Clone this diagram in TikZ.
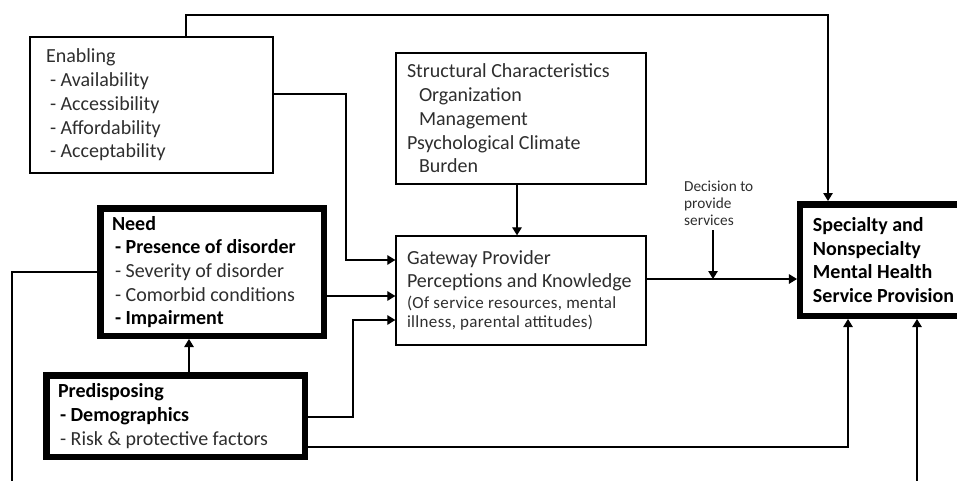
\documentclass[tikz,border=0pt]{standalone}
\usepackage{fontspec}
\setmainfont{Carlito}
\usetikzlibrary{arrows.meta, positioning}

\begin{document}
\begin{tikzpicture}[x=1pt, y=-1pt,
        every node/.style={text=black!82},
        box/.style={draw, line width=1.3pt, align=flush left, inner ysep=0pt,
            font=\fontsize{20}{23.7}\selectfont},
        bigbox/.style={box, line width=6.5pt, inner xsep=11.75pt, text=black},
        link/.style={line width=1.2pt},
        arr/.style={link, -{Triangle[length=8pt,width=9.5pt]}},
        small/.style={font=\fontsize{15.3}{17}\selectfont, align=flush left, inner sep=0pt}]
        \useasboundingbox (0,0) rectangle (957,480);
        \node [box, inner xsep=16pt, text width=211pt, minimum width=243pt, minimum height=136pt]
            (enabling) at (151.5,105) {Enabling\\
            \hspace*{4pt}- Availability\\
            \hspace*{4pt}- Accessibility\\
            \hspace*{4pt}- Affordability\\
            \hspace*{4pt}- Acceptability};
        \node [box, inner xsep=11pt, text width=228pt, minimum width=250pt, minimum height=131pt]
            (structural) at (521,118.5) {Structural Characteristics\\
            \hspace*{12pt}Organization\\
            \hspace*{12pt}Management\\
            Psychological Climate\\
            \hspace*{12pt}Burden};
        \node [box, inner xsep=6pt, text width=238pt, minimum width=250pt, minimum height=109pt]
            (gateway) at (521,290.5) {\hspace*{5pt}Gateway Provider\\
            \hspace*{5pt}Perceptions and Knowledge\\[-2.7pt]
            {\fontsize{17}{19}\selectfont\addfontfeature{LetterSpace=2}\hspace*{5pt}(Of service resources, mental}\\[-4.7pt]
            {\fontsize{17}{19}\selectfont\addfontfeature{LetterSpace=2}\hspace*{5pt}illness, parental attitudes)}};
        \node [bigbox, text width=200pt, minimum width=223.5pt, minimum height=127.5pt]
            (need) at (212,272) {\textbf{Need}\\
            \hspace*{3pt}\textbf{- Presence of disorder}\\
            \hspace*{3pt}{\color{black!82}- Severity of disorder}\\
            \hspace*{3pt}{\color{black!82}- Comorbid conditions}\\
            \hspace*{3pt}\textbf{- Impairment}};
        \node [bigbox, text width=235pt, minimum width=258.5pt, minimum height=81.5pt]
            (pred) at (175.5,416) {\textbf{Predisposing}\\
            \hspace*{2pt}\textbf{- Demographics}\\
            \hspace*{2pt}{\color{black!82}- Risk \& protective factors}};
        \node [bigbox, inner xsep=12.75pt, text width=149.25pt, minimum width=174.75pt, minimum height=111.5pt, font=\fontsize{20}{23.7}\selectfont\bfseries]
            (specialty) at (887.6,260) {Specialty and\\
            Nonspecialty\\
            Mental Health\\
            Service Provision};
        \node [small, anchor=north west] (decision) at (684,181) {Decision to\\provide\\services};
        \coordinate (topA) at (186,15);
        \coordinate (topB) at (828,15);
        \coordinate (enBend) at (346,94);
        \coordinate (gwA) at (0,260);
        \coordinate (gwB) at (0,296);
        \coordinate (gwC) at (0,320);
        \coordinate (gwOut) at (0,279);
        \coordinate (prBend) at (353,417);
        \coordinate (lowBend) at (848,447);
        \coordinate (colA) at (189,360);
        \coordinate (colS) at (517,210);
        \coordinate (decX) at (713,279);
        \coordinate (loopL) at (12,490);
        \coordinate (loopR) at (917,490);
        \draw [arr] (enabling.north -| topA) -- (topA) -- (topB) -- (specialty.north -| topB);
        \draw [arr] (enabling.east |- enBend) -- (enBend) |- (gateway.west |- gwA);
        \draw [arr] (structural.south -| colS) -- (gateway.north -| colS);
        \draw [arr] (need.east |- gwB) -- (gateway.west |- gwB);
        \draw [arr] (pred.east |- prBend) -- (prBend) |- (gateway.west |- gwC);
        \draw [arr] (pred.north -| colA) -- (need.south -| colA);
        \draw [arr] (pred.east |- lowBend) -- (lowBend) -- (specialty.south -| lowBend);
        \draw [arr] (gateway.east |- gwOut) -- (specialty.west |- gwOut);
        \draw [arr] ([yshift=-4pt]decision.south -| decX) -- (decX);
        \draw [link] (need.west) -| (loopL);
        \draw [arr] (loopR) -- (specialty.south -| loopR);
\end{tikzpicture}
\end{document}
